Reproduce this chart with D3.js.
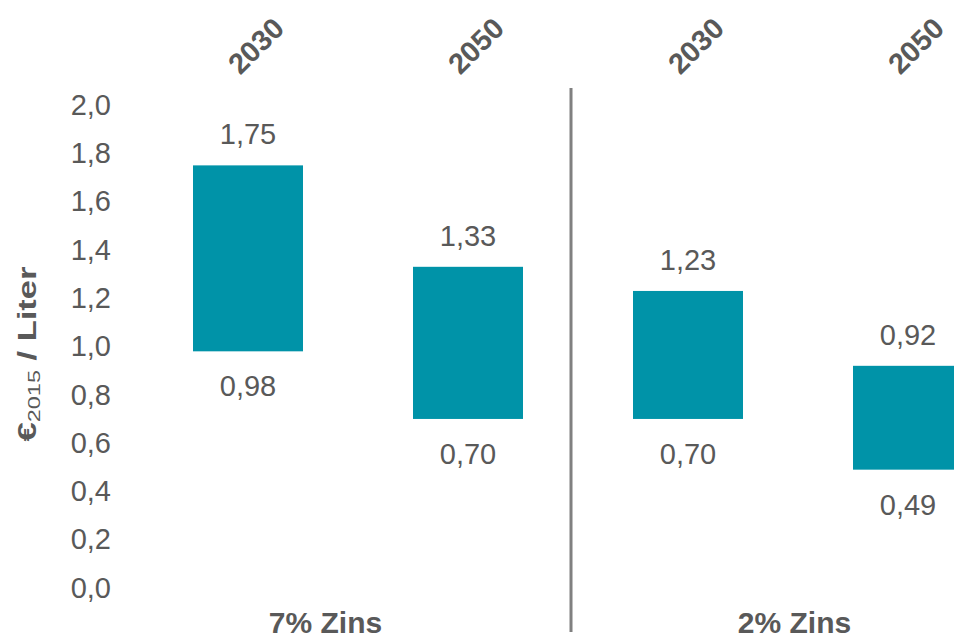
<!DOCTYPE html>
<html>
<head>
<meta charset="utf-8">
<script src="https://cdn.jsdelivr.net/npm/d3@7"></script>
<style>
  body { margin: 0; background: #fff; }
  svg { display: block; font-family: "Liberation Sans", Arial, sans-serif; }
</style>
</head>
<body>
<div id="chart"></div>
<script>
// --------------------------------------
// Data
// --------------------------------------
const keys = ["7-2030", "7-2050", "2-2030", "2-2050"];
const years = ["2030", "2050", "2030", "2050"];
const highs = [1.75, 1.33, 1.23, 0.92];
const lows = [0.98, 0.70, 0.70, 0.49];
const groups = ["7% Zins", "2% Zins"];
const ticks = [0, 0.2, 0.4, 0.6, 0.8, 1.0, 1.2, 1.4, 1.6, 1.8, 2.0];

const width = 954, height = 638;
const grey = "#595959";
const teal = "#0093a8";
const fmt = v => d3.format(".2f")(v).replace(".", ",");

// --------------------------------------
// Canvas
// --------------------------------------
const svg = d3.select("#chart")
  .append("svg")
    .attr("width", width)
    .attr("height", height);

// --------------------------------------
// Scales
// --------------------------------------
const x = d3.scaleBand(keys, [138, 1018])
  .paddingInner(0.5)
  .paddingOuter(0.25);

const xGroup = d3.scaleBand(groups, [91, 1029]);

const y = d3.scaleLinear([0, 2], [588, 105]);

// --------------------------------------
// Axis
// --------------------------------------
const yAxis = svg.append("g")
  .attr("transform", "translate(111,0)")
  .call(d3.axisLeft(y).tickValues(ticks).tickSize(0).tickPadding(0)
    .tickFormat(d => d3.format(".1f")(d).replace(".", ",")));
yAxis.select(".domain").remove();
yAxis.selectAll("text")
  .attr("fill", grey)
  .attr("font-size", 29)
  .attr("font-family", "Liberation Sans, Arial, sans-serif");

svg.append("text")
  .attr("transform", "translate(36,354) rotate(-90) scale(1.38,1)")
  .attr("text-anchor", "middle")
  .attr("fill", grey)
  .attr("font-size", 25)
  .attr("font-weight", "bold")
  .call(t => {
    t.append("tspan").text("€");
    t.append("tspan").attr("font-size", 17).attr("dy", 4).attr("font-weight", "normal").text("2015");
    t.append("tspan").attr("dy", -4).text(" / Liter");
  });

// --------------------------------------
// Bars
// --------------------------------------
svg.selectAll("rect.bar")
  .data(keys)
  .join("rect")
    .attr("class", "bar")
    .attr("x", d => x(d))
    .attr("width", x.bandwidth())
    .attr("y", (d, i) => y(highs[i]))
    .attr("height", (d, i) => y(lows[i]) - y(highs[i]))
    .attr("fill", teal);

svg.selectAll("text.hi")
  .data(keys)
  .join("text")
    .attr("class", "hi")
    .attr("x", d => x(d) + x.bandwidth() / 2)
    .attr("y", (d, i) => y(highs[i]) - 21)
    .attr("text-anchor", "middle")
    .attr("fill", grey)
    .attr("font-size", 29)
    .text((d, i) => fmt(highs[i]));

svg.selectAll("text.lo")
  .data(keys)
  .join("text")
    .attr("class", "lo")
    .attr("x", d => x(d) + x.bandwidth() / 2)
    .attr("y", (d, i) => y(lows[i]) + 45)
    .attr("text-anchor", "middle")
    .attr("fill", grey)
    .attr("font-size", 29)
    .text((d, i) => fmt(lows[i]));

// --------------------------------------
// Year labels
// --------------------------------------
svg.selectAll("text.year")
  .data(keys)
  .join("text")
    .attr("class", "year")
    .attr("transform", d => `translate(${x(d) + x.bandwidth() / 2 + 15},${53}) rotate(-45)`)
    .attr("text-anchor", "middle")
    .attr("fill", grey)
    .attr("font-size", 29)
    .attr("font-weight", "bold")
    .text((d, i) => years[i]);

// --------------------------------------
// Divider and group labels
// --------------------------------------
svg.append("line")
  .attr("x1", 571).attr("x2", 571)
  .attr("y1", 88).attr("y2", 632)
  .attr("stroke", "#808080")
  .attr("stroke-width", 3);

svg.selectAll("text.group")
  .data(groups)
  .join("text")
    .attr("class", "group")
    .attr("x", d => xGroup(d) + xGroup.bandwidth() / 2)
    .attr("y", 633)
    .attr("text-anchor", "middle")
    .attr("fill", grey)
    .attr("font-size", 30)
    .attr("font-weight", "bold")
    .text(d => d);
</script>
</body>
</html>
